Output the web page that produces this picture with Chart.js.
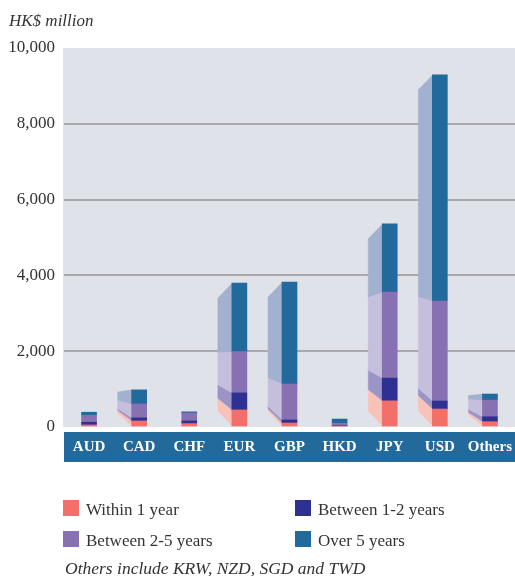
<!DOCTYPE html>
<html>
<head>
<meta charset="utf-8">
<script src="https://cdn.jsdelivr.net/npm/chart.js@4.4.0/dist/chart.umd.min.js"></script>
<style>
  html, body { margin: 0; padding: 0; background: #fff; }
  #wrap { width: 515px; height: 576px; }
</style>
</head>
<body>
<div id="wrap"><canvas id="barChart"></canvas></div>
<script>
// valores (HK$ million)
var categories = ['AUD', 'CAD', 'CHF', 'EUR', 'GBP', 'HKD', 'JPY', 'USD', 'Others'];
var within1Year = [55, 160, 90, 450, 105, 30, 690, 475, 140];
var between1to2 = [70, 80, 70, 450, 80, 15, 600, 210, 130];
var between2to5 = [185, 370, 210, 1090, 950, 55, 2270, 2640, 440];
var over5Years = [80, 370, 30, 1810, 2690, 110, 1800, 5970, 160];
var yTicks = [0, 2000, 4000, 6000, 8000, 10000];

var seriesLabels = ['Within 1 year', 'Between 1-2 years', 'Between 2-5 years', 'Over 5 years'];
var frontColors = ['#f26f6a', '#2e3192', '#8871b3', '#22699c'];
var sideColors = ['#f8c2b9', '#9b94c7', '#c6bedd', '#a2b1cf'];

var textColor = '#333333';
var serif = "'Liberation Serif', 'Times New Roman', serif";

// fondo gris, banda azul, caras laterales y leyenda
var decoPlugin = {
    id: 'deco',
    beforeDraw: function (chart) {
        var ctx = chart.ctx, a = chart.chartArea;
        ctx.save();
        ctx.fillStyle = '#e0e2ea';
        ctx.fillRect(a.left - 1, a.top, a.right - a.left + 1, a.bottom - a.top);
        ctx.fillStyle = '#22699c';
        ctx.fillRect(a.left, a.bottom + 5, a.right - a.left, 30);
        ctx.restore();
    },
    beforeDatasetsDraw: function (chart) {
        var ctx = chart.ctx;
        var metas = chart.data.datasets.map(function (d, k) { return chart.getDatasetMeta(k); });
        var depth = 14;
        ctx.save();
        for (var i = 0; i < categories.length; i++) {
            var first = metas[0].data[i];
            var last = metas[metas.length - 1].data[i];
            var bottom = first.base, top = last.y;
            var h = bottom - top;
            if (h < 20) continue;
            var ti = Math.min(15, Math.max(0, (h - 20) * 0.13));
            var bi = Math.min(15, h * 0.35);
            var L = first.x - first.width / 2;
            var map = function (y) { return top + ti + (y - top) * (h - ti - bi) / h; };
            metas.forEach(function (m, k) {
                var b = m.data[i];
                ctx.fillStyle = sideColors[k];
                ctx.strokeStyle = sideColors[k];
                ctx.lineWidth = 0.5;
                ctx.beginPath();
                ctx.moveTo(L + 0.5, b.y);
                ctx.lineTo(L + 0.5, b.base);
                ctx.lineTo(L - depth, map(b.base));
                ctx.lineTo(L - depth, map(b.y));
                ctx.closePath();
                ctx.fill();
                ctx.stroke();
            });
        }
        ctx.restore();
    },
    afterDraw: function (chart) {
        var ctx = chart.ctx;
        ctx.save();
        ctx.fillStyle = textColor;
        ctx.textBaseline = 'alphabetic';
        ctx.font = 'italic 17px ' + serif;
        ctx.fillText('HK$ million', 9, 26);

        // leyenda 2x2
        var cols = [63, 295], rows = [500, 531];
        ctx.font = '17px ' + serif;
        chart.data.datasets.forEach(function (ds, k) {
            var x = cols[k % 2], y = rows[Math.floor(k / 2)];
            ctx.fillStyle = ds.backgroundColor;
            ctx.fillRect(x, y, 16, 16);
            ctx.fillStyle = textColor;
            ctx.fillText(ds.label, x + 23, y + 15);
        });

        ctx.font = 'italic 17.5px ' + serif;
        ctx.fillText('Others include KRW, NZD, SGD and TWD', 65, 574);
        ctx.restore();
    }
};

var ctx = document.getElementById('barChart');
var myChart = new Chart(ctx, {
    type: 'bar',
    data: {
        labels: categories,
        datasets: [
            { label: seriesLabels[0], data: within1Year, backgroundColor: frontColors[0] },
            { label: seriesLabels[1], data: between1to2, backgroundColor: frontColors[1] },
            { label: seriesLabels[2], data: between2to5, backgroundColor: frontColors[2] },
            { label: seriesLabels[3], data: over5Years, backgroundColor: frontColors[3] }
        ]
    },
    options: {
        responsive: true,
        maintainAspectRatio: false,
        animation: false,
        datasets: { bar: { barThickness: 15, borderWidth: 0 } },
        layout: { padding: { top: 48, left: 9, right: 0, bottom: 120 } },
        plugins: {
            legend: { display: false },
            tooltip: { enabled: false }
        },
        scales: {
            x: {
                stacked: true,
                grid: { display: false, drawTicks: true, tickLength: 11 },
                border: { display: false },
                afterFit: function (axis) { axis.height = 29; },
                ticks: {
                    color: '#ffffff',
                    padding: 0,
                    maxRotation: 0,
                    minRotation: 0,
                    autoSkip: false,
                    font: { family: serif, size: 15, weight: 'bold' }
                }
            },
            y: {
                stacked: true,
                min: 0,
                max: 10000,
                afterBuildTicks: function (axis) {
                    axis.ticks = yTicks.map(function (v) { return { value: v }; });
                },
                afterFit: function (axis) { axis.width = 55; },
                grid: {
                    drawTicks: false,
                    lineWidth: 2,
                    color: function (c) {
                        if (!c.tick || c.tick.value === 0 || c.tick.value === 10000) return 'rgba(0,0,0,0)';
                        return '#a9a9ad';
                    }
                },
                border: { display: false },
                ticks: {
                    color: textColor,
                    padding: 9,
                    font: { family: serif, size: 17 },
                    callback: function (v) { return v.toLocaleString('en-US'); }
                }
            }
        }
    },
    plugins: [decoPlugin]
});
</script>
</body>
</html>
